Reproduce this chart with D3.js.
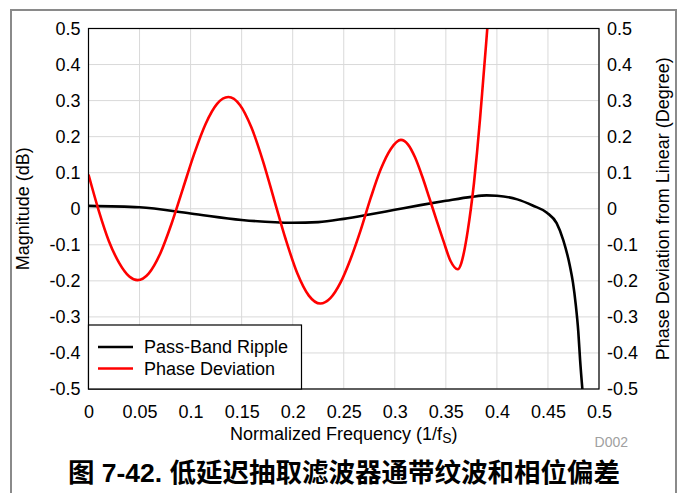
<!DOCTYPE html>
<html>
<head>
<meta charset="utf-8">
<script src="https://cdn.jsdelivr.net/npm/d3@7"></script>
<style>
  body { margin: 0; background: #fff; }
  text { font-family: "Liberation Sans", Arial, sans-serif; fill: #000; }
</style>
</head>
<body>
<div id="chart"></div>
<script>
// values
var freqTicks = [0, 0.05, 0.1, 0.15, 0.2, 0.25, 0.3, 0.35, 0.4, 0.45, 0.5];
var levelTicks = [-0.5, -0.4, -0.3, -0.2, -0.1, 0, 0.1, 0.2, 0.3, 0.4, 0.5];

// Pass-Band Ripple (dB) : [freq, value]
var ripple = [
  [0, 0.008], [0.05, 0.004], [0.1, -0.013], [0.15, -0.031], [0.2, -0.039],
  [0.225, -0.037], [0.25, -0.028], [0.275, -0.016], [0.3, -0.003], [0.325, 0.01],
  [0.35, 0.022], [0.375, 0.033], [0.39, 0.037], [0.4, 0.036], [0.42, 0.026],
  [0.435, 0.009], [0.449, -0.011], [0.4585, -0.04], [0.465, -0.087], [0.4716, -0.16],
  [0.4745, -0.205], [0.4772, -0.265], [0.4797, -0.34], [0.4815, -0.42], [0.484, -0.51]
];

// Phase Deviation (degree) : [freq, value]
var phase = [
  [0, 0.095], [0.01, -0.005], [0.02, -0.09], [0.03, -0.15], [0.04, -0.188],
  [0.048, -0.198], [0.0591, -0.179], [0.0703, -0.124], [0.0814, -0.041], [0.0925, 0.056],
  [0.1036, 0.153], [0.1148, 0.236], [0.1259, 0.291], [0.137, 0.31], [0.1483, 0.288],
  [0.1595, 0.226], [0.1708, 0.133], [0.182, 0.0235], [0.1933, -0.086], [0.2045, -0.179],
  [0.2158, -0.241], [0.227, -0.263], [0.2369, -0.248], [0.2468, -0.205], [0.2566, -0.14],
  [0.2665, -0.06], [0.2764, 0.03], [0.2863, 0.11], [0.2961, 0.166], [0.306, 0.191],
  [0.313, 0.178], [0.3199, 0.142], [0.3268, 0.09], [0.3338, 0.03], [0.3407, -0.03],
  [0.3477, -0.09], [0.3546, -0.145], [0.3616, -0.168], [0.365, -0.152], [0.3685, -0.11],
  [0.3715, -0.06], [0.3745, 0.0], [0.3775, 0.07], [0.3805, 0.155], [0.3835, 0.25],
  [0.3865, 0.355], [0.3895, 0.46], [0.3925, 0.57]
];

var seriesNames = ["Pass-Band Ripple", "Phase Deviation"];
var seriesColors = ["#000000", "#ff0000"];

var W = 682, H = 493;
var plot = {left: 88.5, right: 599, top: 28.5, bottom: 389};

var svg = d3.select("#chart").append("svg")
  .attr("width", W)
  .attr("height", H);

// outer frame of the page
svg.append("path")
  .attr("d", "M11," + H + "V10H676V" + H)
  .attr("fill", "none")
  .attr("stroke", "#8a8a8a")
  .attr("stroke-width", 2);

var x = d3.scaleLinear().domain([0, 0.5]).range([plot.left, plot.right]);
var y = d3.scaleLinear().domain([-0.5, 0.5]).range([plot.bottom, plot.top]);
var y2 = d3.scaleLinear().domain([-0.5, 0.5]).range([plot.bottom, plot.top]);

var fmt = function(d) { return String(+d.toFixed(2)); };

// grid
svg.append("g")
  .selectAll("line")
  .data(freqTicks)
  .enter()
  .append("line")
    .attr("x1", d => x(d)).attr("x2", d => x(d))
    .attr("y1", plot.top).attr("y2", plot.bottom)
    .attr("stroke", "#d9d9d9").attr("stroke-width", 1);

svg.append("g")
  .selectAll("line")
  .data(levelTicks)
  .enter()
  .append("line")
    .attr("x1", plot.left).attr("x2", plot.right)
    .attr("y1", d => y(d)).attr("y2", d => y(d))
    .attr("stroke", "#d9d9d9").attr("stroke-width", 1);

// axes
function styleAxis(g) {
  g.select(".domain").remove();
  g.selectAll("text").style("font-size", "18px").attr("fill", "#000");
}

svg.append("g")
  .attr("transform", "translate(0," + plot.bottom + ")")
  .call(d3.axisBottom(x).tickValues(freqTicks).tickFormat(fmt).tickSize(0).tickPadding(16))
  .call(styleAxis);

svg.append("g")
  .attr("transform", "translate(" + plot.left + ",0)")
  .call(d3.axisLeft(y).tickValues(levelTicks).tickFormat(fmt).tickSize(0).tickPadding(8))
  .call(styleAxis);

svg.append("g")
  .attr("transform", "translate(" + plot.right + ",0)")
  .call(d3.axisRight(y2).tickValues(levelTicks).tickFormat(fmt).tickSize(0).tickPadding(8))
  .call(styleAxis);

// curves
svg.append("clipPath")
  .attr("id", "plotclip")
  .append("rect")
    .attr("x", plot.left).attr("y", plot.top)
    .attr("width", plot.right - plot.left)
    .attr("height", plot.bottom - plot.top);

svg.append("path")
  .datum(ripple)
  .attr("clip-path", "url(#plotclip)")
  .attr("fill", "none")
  .attr("stroke", seriesColors[0])
  .attr("stroke-width", 2.6)
  .attr("d", d3.line()
    .curve(d3.curveMonotoneX)
    .x(d => x(d[0]))
    .y(d => y(d[1])));

svg.append("path")
  .datum(phase)
  .attr("clip-path", "url(#plotclip)")
  .attr("fill", "none")
  .attr("stroke", seriesColors[1])
  .attr("stroke-width", 2.6)
  .attr("d", d3.line()
    .curve(d3.curveMonotoneX)
    .x(d => x(d[0]))
    .y(d => y2(d[1])));

// plot border
svg.append("rect")
  .attr("x", plot.left).attr("y", plot.top)
  .attr("width", plot.right - plot.left)
  .attr("height", plot.bottom - plot.top)
  .attr("fill", "none")
  .attr("stroke", "#000")
  .attr("stroke-width", 1.2);

// legend
var legend = svg.append("g");
legend.append("rect")
  .attr("x", plot.left).attr("y", 325)
  .attr("width", 213).attr("height", plot.bottom - 325)
  .attr("fill", "#fff")
  .attr("stroke", "#000")
  .attr("stroke-width", 1.2);

legend.selectAll("g.item")
  .data(seriesNames)
  .enter()
  .append("g")
  .attr("class", "item")
  .each(function(d, i) {
    var g = d3.select(this);
    var ly = 347 + i * 21.5;
    g.append("line")
      .attr("x1", 98).attr("x2", 133)
      .attr("y1", ly).attr("y2", ly)
      .attr("stroke", seriesColors[i])
      .attr("stroke-width", 2.6);
    g.append("text")
      .attr("x", 144).attr("y", ly)
      .attr("dy", "0.35em")
      .style("font-size", "18px")
      .text(d);
  });

// axis titles
svg.append("text")
  .attr("transform", "translate(29," + ((plot.top + plot.bottom) / 2) + ") rotate(-90)")
  .attr("text-anchor", "middle")
  .style("font-size", "18px")
  .text("Magnitude (dB)");

svg.append("text")
  .attr("transform", "translate(669," + ((plot.top + plot.bottom) / 2) + ") rotate(-90)")
  .attr("text-anchor", "middle")
  .style("font-size", "18px")
  .text("Phase Deviation from Linear (Degree)");

var xt = svg.append("text")
  .attr("x", (plot.left + plot.right) / 2)
  .attr("y", 440)
  .attr("text-anchor", "middle")
  .style("font-size", "18px");
xt.append("tspan").text("Normalized Frequency (1/f");
xt.append("tspan").attr("dy", 3).style("font-size", "14px").text("S");
xt.append("tspan").attr("dy", -3).text(")");

svg.append("text")
  .attr("x", 628)
  .attr("y", 447)
  .attr("text-anchor", "end")
  .style("font-size", "14px")
  .style("fill", "#a0a0a0")
  .text("D002");

// caption
svg.append("text")
  .attr("x", 344)
  .attr("y", 482)
  .attr("text-anchor", "middle")
  .style("font-size", "26.5px")
  .style("font-weight", "bold")
  .style("font-family", "'Liberation Sans', 'Noto Sans CJK SC', sans-serif")
  .text("图 7-42. 低延迟抽取滤波器通带纹波和相位偏差");
</script>
</body>
</html>
